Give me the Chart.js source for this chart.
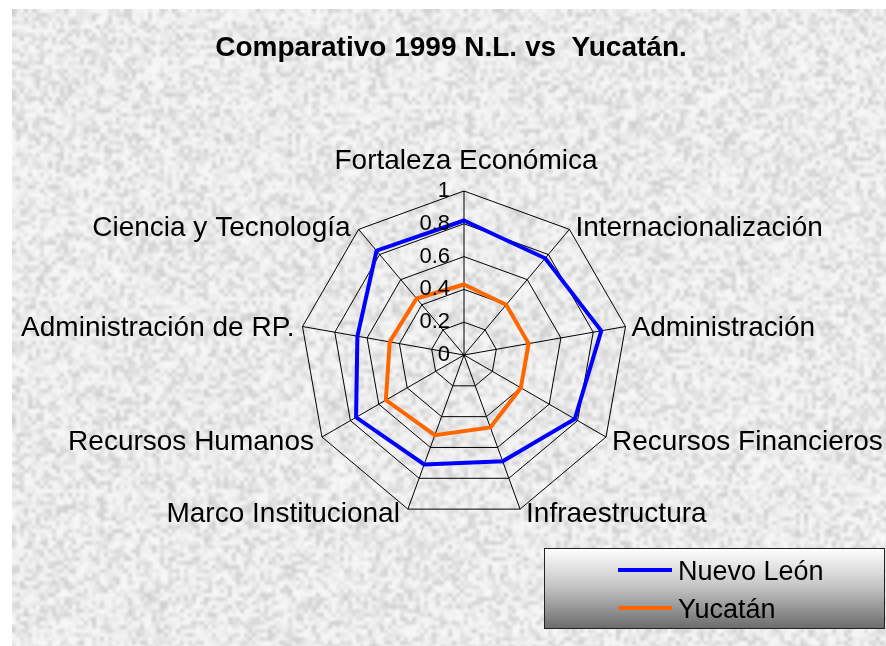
<!DOCTYPE html>
<html>
<head>
<meta charset="utf-8">
<script src="https://cdn.jsdelivr.net/npm/chart.js@4/dist/chart.umd.min.js"></script>
<style>
  html, body { margin: 0; padding: 0; background: #fff; }
  canvas { display: block; }
</style>
</head>
<body>
<canvas id="radar" width="886" height="646"></canvas>
<script>
var categories = [
    'Fortaleza Económica',
    'Internacionalización',
    'Administración',
    'Recursos Financieros',
    'Infraestructura',
    'Marco Institucional',
    'Recursos Humanos',
    'Administración de RP.',
    'Ciencia y Tecnología'
];
var nuevoLeon = [0.82, 0.77, 0.85, 0.78, 0.69, 0.71, 0.76, 0.66, 0.83];
var yucatan = [0.43, 0.40, 0.40, 0.40, 0.47, 0.52, 0.55, 0.46, 0.45];
var tickValues = [0, 0.2, 0.4, 0.6, 0.8, 1];
var tickLabels = ['0', '0.2', '0.4', '0.6', '0.8', '1'];
var seriesNames = ['Nuevo León', 'Yucatán'];
var titleText = 'Comparativo 1999 N.L. vs  Yucatán.';

var FONT = '"Liberation Sans", Arial, sans-serif';

// grey stone backdrop, built once from a small noise bitmap and scaled up
var stone = null;
function buildStone(w, h, cell) {
    var cw = Math.ceil(w / cell), ch = Math.ceil(h / cell);
    var off = document.createElement('canvas');
    off.width = cw;
    off.height = ch;
    var octx = off.getContext('2d');
    var img = octx.createImageData(cw, ch);
    var seed = 20231;
    for (var i = 0; i < cw * ch; i++) {
        seed = (seed * 1103515245 + 12345) & 0x7fffffff;
        var r = seed / 0x7fffffff;
        var v = Math.round(248 - Math.pow(r, 1.8) * 42);
        img.data[i * 4] = v;
        img.data[i * 4 + 1] = v;
        img.data[i * 4 + 2] = v;
        img.data[i * 4 + 3] = 255;
    }
    octx.putImageData(img, 0, 0);
    return off;
}

var decorPlugin = {
    id: 'decor',
    beforeDraw: function (chart) {
        var ctx = chart.ctx;
        var cell = 4;
        ctx.save();
        ctx.fillStyle = '#fff';
        ctx.fillRect(0, 0, chart.width, chart.height);
        if (!stone) stone = buildStone(chart.width - 12, chart.height - 9, cell);
        ctx.imageSmoothingEnabled = true;
        ctx.drawImage(stone, 12, 9, stone.width * cell, stone.height * cell);
        ctx.restore();
    },
    afterDraw: function (chart) {
        var ctx = chart.ctx;
        var scale = chart.scales.r;
        var radius = scale.drawingArea;
        ctx.save();
        ctx.fillStyle = '#000';

        // title
        ctx.font = 'bold 28px ' + FONT;
        ctx.textAlign = 'center';
        ctx.textBaseline = 'alphabetic';
        ctx.fillText(titleText, 451, 56);

        // value ticks, right-aligned just left of the vertical spoke
        ctx.font = '22px ' + FONT;
        ctx.textAlign = 'right';
        ctx.textBaseline = 'middle';
        tickValues.forEach(function (v, i) {
            var d = scale.getDistanceFromCenterForValue(v);
            ctx.fillText(tickLabels[i], scale.xCenter - 14, scale.yCenter - d);
        });

        // category labels around the outer ring
        ctx.font = '28px ' + FONT;
        ctx.textBaseline = 'alphabetic';
        categories.forEach(function (label, i) {
            var p = scale.getPointPosition(i, radius);
            var sx = Math.cos(p.angle), sy = Math.sin(p.angle);
            if (i === 0) {
                ctx.textAlign = 'center';
                ctx.fillText(label, p.x + 2, p.y - 22);
                return;
            }
            ctx.textAlign = sx > 0 ? 'left' : 'right';
            var x = p.x + (sx > 0 ? 6 : -8);
            var y = p.y + 10 + Math.min(5 * sy, 3);
            ctx.fillText(label, x, y);
        });

        // legend box with a vertical grey gradient
        var bx = 544, by = 548, bw = 341, bh = 81;
        var grad = ctx.createLinearGradient(0, by, 0, by + bh);
        grad.addColorStop(0, '#ffffff');
        grad.addColorStop(0.45, '#c8c8c8');
        grad.addColorStop(1, '#6a6a6a');
        ctx.fillStyle = grad;
        ctx.fillRect(bx, by, bw, bh);
        ctx.strokeStyle = '#222';
        ctx.lineWidth = 1;
        ctx.strokeRect(bx + 0.5, by + 0.5, bw - 1, bh - 1);

        ctx.font = '27px ' + FONT;
        ctx.textAlign = 'left';
        var rows = [570, 608];
        chart.data.datasets.forEach(function (ds, i) {
            var y = rows[i];
            ctx.strokeStyle = ds.borderColor;
            ctx.lineWidth = 4;
            ctx.beginPath();
            ctx.moveTo(618, y);
            ctx.lineTo(672, y);
            ctx.stroke();
            ctx.fillStyle = '#000';
            ctx.fillText(ds.label, 678, y + 9.7);
        });
        ctx.restore();
    }
};

var ctx = document.getElementById('radar').getContext('2d');
new Chart(ctx, {
    type: 'radar',
    data: {
        labels: categories,
        datasets: [{
            label: seriesNames[0],
            data: nuevoLeon,
            borderColor: '#0000ff',
            borderWidth: 4,
            fill: false,
            pointRadius: 0,
            tension: 0
        }, {
            label: seriesNames[1],
            data: yucatan,
            borderColor: '#ff6600',
            borderWidth: 4,
            fill: false,
            pointRadius: 0,
            tension: 0
        }]
    },
    options: {
        responsive: false,
        animation: false,
        layout: {
            padding: { left: 300, right: 257, top: 190, bottom: 126 }
        },
        plugins: {
            legend: { display: false },
            title: { display: false },
            tooltip: { enabled: false }
        },
        elements: {
            line: { borderJoinStyle: 'miter' }
        },
        scales: {
            r: {
                min: 0,
                max: 1,
                ticks: { stepSize: 0.2, display: false },
                pointLabels: { display: false },
                grid: { color: '#000', lineWidth: 1, circular: false },
                angleLines: { color: '#000', lineWidth: 1 }
            }
        }
    },
    plugins: [decorPlugin]
});
</script>
</body>
</html>
